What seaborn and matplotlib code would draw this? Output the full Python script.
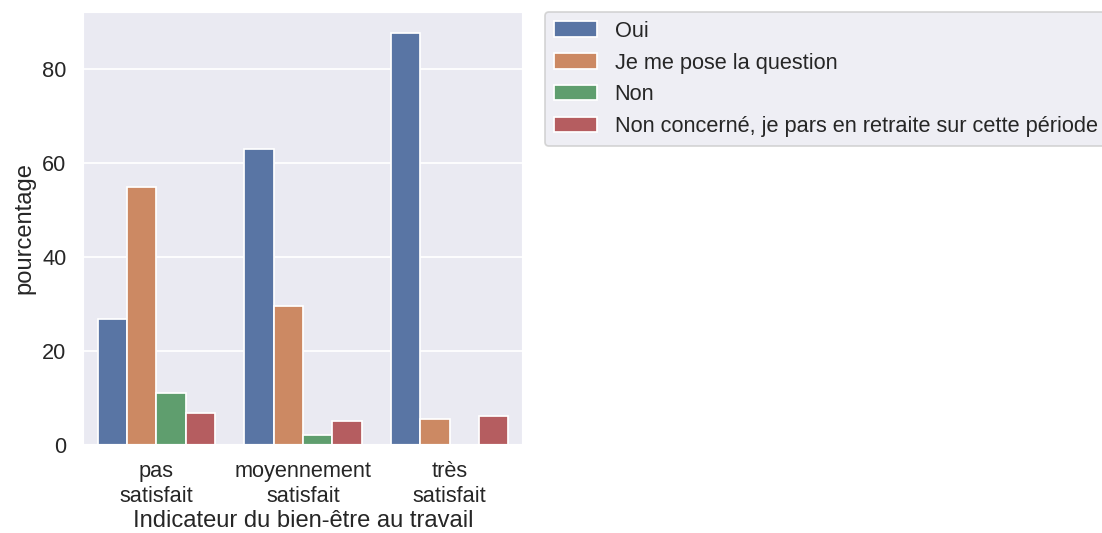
import numpy as np
import pandas as pd
import matplotlib
matplotlib.use("Agg")
import matplotlib.pyplot as plt
import seaborn as sns

# Satisfaction level (x axis) and answer categories (hue)
niveaux = ["pas\nsatisfait", "moyennement\nsatisfait", "très\nsatisfait"]
reponses = ["Oui", "Je me pose la question", "Non",
            "Non concerné, je pars en retraite sur cette période"]

# Percentage of each answer within each satisfaction level
oui = [26.9, 63.1, 87.8]
question = [55.0, 29.5, 5.6]
non = [11.1, 2.2, 0.0]
retraite = [6.9, 5.1, 6.1]

valeurs = [oui, question, non, retraite]
df = pd.DataFrame({
    "Indicateur du bien-être au travail": [n for _ in reponses for n in niveaux],
    "reponse": [r for r in reponses for _ in niveaux],
    "pourcentage": [v for serie in valeurs for v in serie],
})

sns.set_theme(style="darkgrid", font_scale=1.14)
plt.rcParams["font.family"] = ["Liberation Sans", "DejaVu Sans"]

fig = plt.figure(figsize=(1102 / 125, 533 / 125), dpi=125)
ax = fig.add_axes([83 / 1102, (533 - 445) / 533, 440 / 1102, 433 / 533])

sns.barplot(data=df, x="Indicateur du bien-être au travail", y="pourcentage",
            hue="reponse", order=niveaux, hue_order=reponses, ax=ax)

ax.set_xlabel("Indicateur du bien-être au travail", labelpad=2)
ax.legend(bbox_to_anchor=(1.05, 1), loc=2, borderaxespad=0.0)

fig.savefig("out.png", dpi=125)
